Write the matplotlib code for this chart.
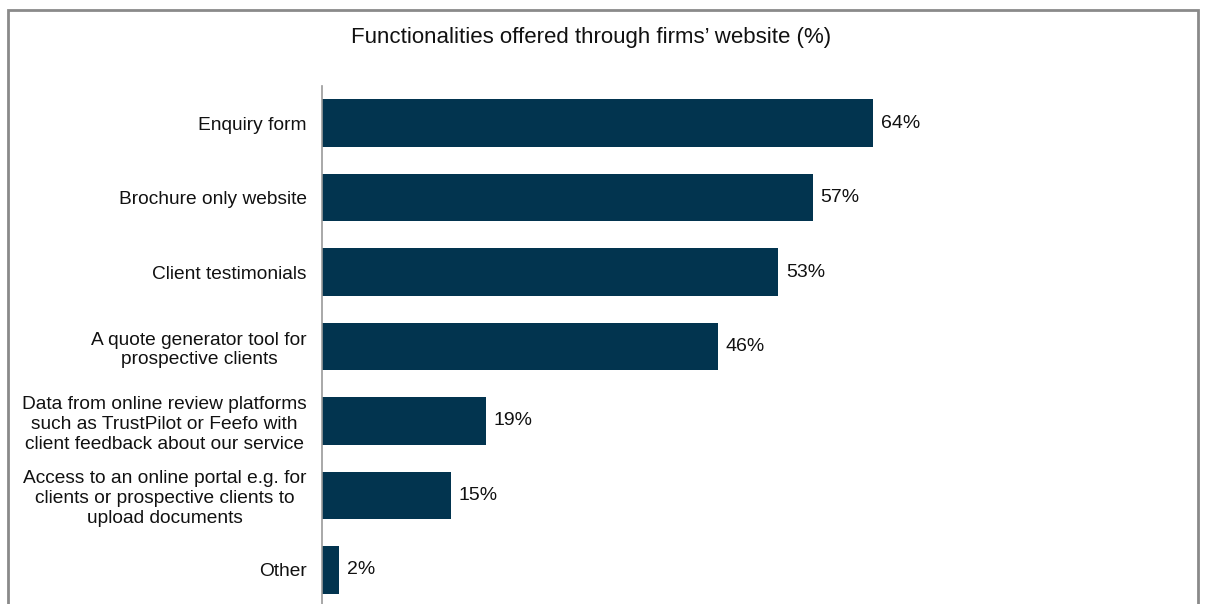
import matplotlib
matplotlib.use("Agg")
import matplotlib.pyplot as plt
from matplotlib.patches import Rectangle

plt.rcParams['font.family'] = ['Liberation Sans', 'DejaVu Sans']

categories = [
    "Enquiry form",
    "Brochure only website",
    "Client testimonials",
    "A quote generator tool for\nprospective clients",
    "Data from online review platforms\nsuch as TrustPilot or Feefo with\nclient feedback about our service",
    "Access to an online portal e.g. for\nclients or prospective clients to\nupload documents",
    "Other",
]
values = [64, 57, 53, 46, 19, 15, 2]
title = "Functionalities offered through firms\u2019 website (%)"

W, H = 1206, 604
fig = plt.figure(figsize=(W / 100, H / 100), dpi=100)

# axes area in pixel terms: left 322, top 86, bottom runs just past the figure edge
left, right, top, bottom = 322, 1183, 86, 607
ax = fig.add_axes([left / W, 1 - bottom / H, (right - left) / W, (bottom - top) / H])

ypos = list(range(len(categories)))
ax.barh(ypos, values, height=0.64, color="#02344f", edgecolor="none")
ax.set_ylim(len(categories) - 0.5, -0.5)
ax.set_xlim(0, 100)

for y, v in zip(ypos, values):
    ax.text(v + 0.9, y, f"{v}%", va="center", ha="left", fontsize=14, color="#111111")

ax.set_yticks(ypos)
ax.set_yticklabels(categories, fontsize=13.8, color="#111111", linespacing=1.22,
                   multialignment="center")
ax.tick_params(axis="y", length=0, pad=11)
ax.set_xticks([])
for s in ["top", "right", "bottom"]:
    ax.spines[s].set_visible(False)
ax.spines["left"].set_color("#999999")
ax.spines["left"].set_linewidth(1.2)

fig.text(591 / W, 1 - 38 / H, title, ha="center", va="center", fontsize=16, color="#111111")

# outer frame
fig.patches.append(Rectangle((8 / W, -0.05), (1198 - 8) / W, 1.05 - 10 / H,
                             transform=fig.transFigure, fill=False,
                             edgecolor="#8a8a8a", linewidth=2))

fig.savefig("out.png", dpi=100)
